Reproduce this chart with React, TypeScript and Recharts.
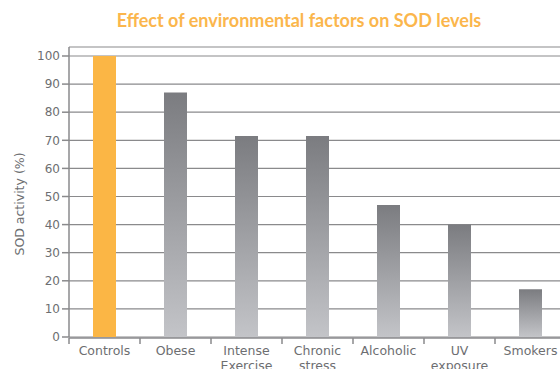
import { Bar, BarChart, CartesianGrid, Cell, XAxis, YAxis } from "recharts";

const categories = ["Controls", "Obese", "Intense\nExercise", "Chronic\nstress", "Alcoholic", "UV\nexposure", "Smokers"];
const sodActivity = [100, 87, 71.5, 71.5, 47, 40, 17];
const yTicks = [0, 10, 20, 30, 40, 50, 60, 70, 80, 90, 100];
const boundaryTicks = [0, 1, 2, 3, 4, 5, 6, 7];

const data = categories.map((name, i) => ({ name, pos: i + 0.5, value: sodActivity[i] }));

const font = "'DejaVu Sans', sans-serif";
const gray = "#6d6e71";
const lineGray = "#8a8a8c";

function CategoryTick({ x, y, payload }: any) {
	const lines = String(payload.value).split("\n");
	return (
		<text x={x} y={y + 10} textAnchor="middle" fill={gray} fontSize={12.5} fontFamily={font}>
			{lines.map((l, i) => (
				<tspan key={i} x={x} dy={i === 0 ? 0 : 15}>
					{l}
				</tspan>
			))}
		</text>
	);
}

export default function App() {
	return (
		<div
			style={{
				position: "absolute",
				left: 0,
				top: 0,
				width: 560,
				height: 369,
				overflow: "hidden",
				background: "#fff",
			}}
		>
			<div
				style={{
					position: "absolute",
					left: 0,
					width: 598,
					top: 9,
					textAlign: "center",
					color: "#fbb64c",
					fontFamily: "Lato, sans-serif",
					fontWeight: 700,
					fontSize: 18,
				}}
			>
				Effect of environmental factors on SOD levels
			</div>
			<BarChart
				width={580}
				height={369}
				data={data}
				margin={{ top: 47, right: 14, left: 0, bottom: 0 }}
			>
				<defs>
					<linearGradient id="grayBar" x1="0" y1="0" x2="0" y2="1">
						<stop offset="0%" stopColor="#7b7c80" />
						<stop offset="100%" stopColor="#c3c4c8" />
					</linearGradient>
				</defs>
				<CartesianGrid xAxisId="cat" vertical={false} stroke={lineGray} strokeWidth={1.2} />
				<XAxis
					xAxisId="cat"
					dataKey="name"
					height={1}
					interval={0}
					axisLine={false}
					tickLine={false}
					tick={<CategoryTick />}
				/>
				<XAxis
					xAxisId="edge"
					dataKey="pos"
					type="number"
					domain={[0, 7]}
					ticks={boundaryTicks}
					allowDataOverflow
					height={31}
					tick={() => <g />}
					tickLine={{ stroke: lineGray, strokeWidth: 1.5 }}
					tickSize={6}
					axisLine={{ stroke: lineGray, strokeWidth: 1.5 }}
				/>
				<YAxis
					width={69}
					domain={[0, 103.2]}
					ticks={yTicks}
					allowDataOverflow
					tick={{ fill: gray, fontSize: 12, fontFamily: font }}
					tickLine={{ stroke: lineGray, strokeWidth: 1.5 }}
					tickSize={7}
					axisLine={{ stroke: lineGray, strokeWidth: 1.5 }}
					label={{
						value: "SOD activity (%)",
						angle: -90,
						position: "insideLeft",
						offset: 20,
						dy: 12,
						fill: gray,
						fontSize: 12.5,
						fontFamily: font,
						style: { textAnchor: "middle" },
					}}
				/>
				<Bar xAxisId="cat" dataKey="value" barSize={23} isAnimationActive={false}>
					{data.map((d, i) => (
						<Cell key={d.name} fill={i === 0 ? "#fbb645" : "url(#grayBar)"} />
					))}
				</Bar>
			</BarChart>
		</div>
	);
}
